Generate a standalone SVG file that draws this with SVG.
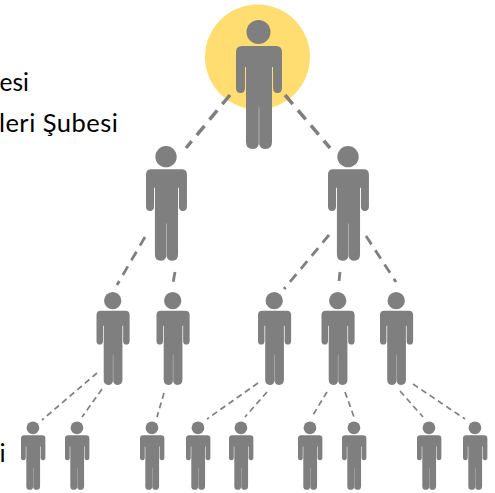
<svg xmlns="http://www.w3.org/2000/svg" width="495" height="493" viewBox="0 0 495 493">
<style>
text{font-family:"Lato","Liberation Sans",sans-serif;font-size:25.500px;fill:#000;text-anchor:end}
.person{fill:#7f7f7f}
#connectors line{stroke:#7f7f7f;fill:none}
.c1{stroke-width:3.500;stroke-dasharray:12 8}
.c2{stroke-width:2.800;stroke-dasharray:10 7}
.c3{stroke-width:1.700;stroke-dasharray:6 4}
</style>
<defs>
<g id="p">
<circle cx="22.500" cy="12" r="12"/>
<path d="M6 26H40Q46 26 46 32V68Q46 73 41.500 73Q37 73 37 68V47H36V122Q36 129 29.500 129Q24 129 23.200 124V87H22.800V124Q22 129 16.500 129Q10 129 10 122V47H9V68Q9 73 4.500 73Q0 73 0 68V32Q0 26 6 26Z"/>
</g>
</defs>
<circle id="highlight" cx="257.500" cy="57" r="52.500" fill="#ffdd71"/>
<g id="connectors">
<line class="c1" x1="230" y1="95" x2="186" y2="148"/>
<line class="c1" x1="285" y1="95" x2="330" y2="148"/>
<line class="c2" x1="145" y1="237" x2="117" y2="285"/>
<line class="c2" x1="175" y1="272" x2="173" y2="283"/>
<line class="c2" x1="329" y1="235" x2="284" y2="289"/>
<line class="c2" x1="340" y1="272" x2="339" y2="281"/>
<line class="c2" x1="366" y1="236" x2="396" y2="282"/>
<line class="c3" x1="97" y1="373" x2="42" y2="420"/>
<line class="c3" x1="102" y1="389" x2="82" y2="417"/>
<line class="c3" x1="164" y1="393" x2="157" y2="417"/>
<line class="c3" x1="258" y1="383" x2="207" y2="419"/>
<line class="c3" x1="267" y1="392" x2="245" y2="417"/>
<line class="c3" x1="327" y1="392" x2="313" y2="415"/>
<line class="c3" x1="345" y1="392" x2="354" y2="417"/>
<line class="c3" x1="400" y1="391" x2="423" y2="417"/>
<line class="c3" x1="413" y1="384" x2="465" y2="419"/>
</g>
<g id="n0" class="person"><use href="#p" transform="translate(236 20)"/></g>
<g id="n1" class="person"><use href="#p" transform="translate(146 146) scale(.89)"/></g>
<g id="n2" class="person"><use href="#p" transform="translate(328 146) scale(.89)"/></g>
<g id="n3" class="person"><use href="#p" transform="translate(96.500 292) scale(.72)"/></g>
<g id="n4" class="person"><use href="#p" transform="translate(156.500 292) scale(.72)"/></g>
<g id="n5" class="person"><use href="#p" transform="translate(258 292) scale(.72)"/></g>
<g id="n6" class="person"><use href="#p" transform="translate(321.500 292) scale(.72)"/></g>
<g id="n7" class="person"><use href="#p" transform="translate(380 292) scale(.72)"/></g>
<g id="n8" class="person"><use href="#p" transform="translate(21 421.500) scale(.53)"/></g>
<g id="n9" class="person"><use href="#p" transform="translate(65 421.500) scale(.53)"/></g>
<g id="n10" class="person"><use href="#p" transform="translate(140 421.500) scale(.53)"/></g>
<g id="n11" class="person"><use href="#p" transform="translate(186 421.500) scale(.53)"/></g>
<g id="n12" class="person"><use href="#p" transform="translate(229 421.500) scale(.53)"/></g>
<g id="n13" class="person"><use href="#p" transform="translate(298 421.500) scale(.53)"/></g>
<g id="n14" class="person"><use href="#p" transform="translate(342 421.500) scale(.53)"/></g>
<g id="n15" class="person"><use href="#p" transform="translate(417 421.500) scale(.53)"/></g>
<g id="n16" class="person"><use href="#p" transform="translate(463 421.500) scale(.53)"/></g>
<text x="29" y="91" style="font-size:24.500px">esi</text>
<text x="118.500" y="132" letter-spacing=".5">leri Şubesi</text>
<text x="5.500" y="462">i</text>
</svg>
